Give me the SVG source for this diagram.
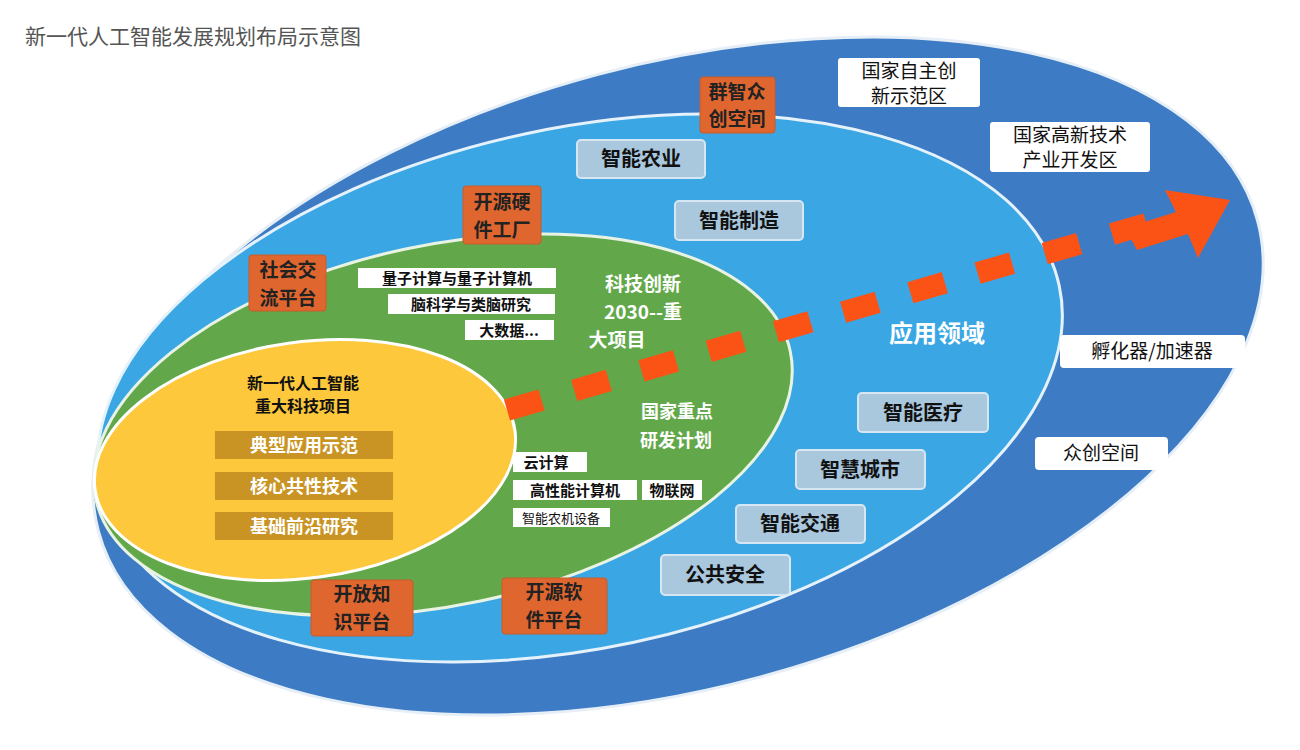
<svg xmlns="http://www.w3.org/2000/svg" width="1300" height="750" viewBox="0 0 1300 750">
<style>
text{font-family:"Noto Sans CJK SC","Liberation Sans",sans-serif;text-anchor:middle}
.org rect{fill:#e0662f;stroke:#c85a28;stroke-width:1}
.org text{fill:#222;font-size:19px;font-weight:bold}
.wb rect{fill:#fff}
.wb text{fill:#111;font-size:19px}
.wl rect{fill:#fff}
.wl text{fill:#111;font-size:15px;font-weight:bold}
.lb rect{fill:#a9c7dd;stroke:#d6e6f2;stroke-width:2}
.lb text{fill:#111;font-size:20px;font-weight:bold}
.gd rect{fill:#c99424}
.gd text{fill:#fff;font-size:18px;font-weight:bold}
.wt text{fill:#fff;font-weight:bold}
</style>
<rect width="1300" height="750" fill="#fff"/>
<text x="25" y="44" style="text-anchor:start;font-size:21px;fill:#555">新一代人工智能发展规划布局示意图</text>
<g id="outer"><ellipse cx="678" cy="376" rx="600" ry="312" transform="rotate(-15 678 376)" fill="#3d7cc4" stroke="#e6eef7" stroke-width="3"/></g>
<g id="middle"><ellipse cx="580" cy="388" rx="490" ry="260" transform="rotate(-12 580 388)" fill="#3aa7e4" stroke="#e6f2fb" stroke-width="3"/></g>
<g id="green"><ellipse cx="443" cy="425" rx="355" ry="180" transform="rotate(-12 443 425)" fill="#62a84a" stroke="#e8f3e4" stroke-width="3"/></g>
<g id="yellow"><ellipse cx="305" cy="460" rx="212" ry="118" transform="rotate(-8 305 460)" fill="#fdc83c" stroke="#fff" stroke-width="3"/></g>
<g id="connectors">
<line x1="507" y1="410" x2="1150" y2="223" stroke="#fb5316" stroke-width="22" stroke-dasharray="36,34"/>
<polygon points="1230,200 1165,190 1176,212 1125,228 1137,250 1188,234 1198,258" fill="#fb5316"/>
</g>
<text x="303" y="389" style="font-size:16px;font-weight:bold;fill:#111">新一代人工智能</text>
<text x="303" y="412" style="font-size:16px;font-weight:bold;fill:#111">重大科技项目</text>
<g id="n1" class="gd"><rect x="215" y="431" width="178" height="28"/><text x="304" y="452">典型应用示范</text></g>
<g id="n2" class="gd"><rect x="215" y="472" width="178" height="28"/><text x="304" y="493">核心共性技术</text></g>
<g id="n3" class="gd"><rect x="215" y="512" width="178" height="28"/><text x="304" y="533">基础前沿研究</text></g>
<g id="t1" class="wt"><text x="643" y="291" style="font-size:19px">科技创新</text><text x="643" y="319" style="font-size:19px">2030--重</text><text x="617" y="347" style="font-size:19px">大项目</text></g>
<g id="t2" class="wt"><text x="677" y="418" style="font-size:18px">国家重点</text><text x="676" y="447" style="font-size:18px">研发计划</text></g>
<g id="t3" class="wt"><text x="937" y="342" style="font-size:24px">应用领域</text></g>
<g id="w1" class="wl"><rect x="358" y="268" width="198" height="20"/><text x="457" y="284">量子计算与量子计算机</text></g>
<g id="w2" class="wl"><rect x="388" y="294" width="167" height="20"/><text x="471" y="310">脑科学与类脑研究</text></g>
<g id="w3" class="wl"><rect x="465" y="320" width="89" height="20"/><text x="509" y="336">大数据...</text></g>
<g id="w4" class="wl"><rect x="513" y="452" width="74" height="20"/><text x="546" y="468">云计算</text></g>
<g id="w5" class="wl"><rect x="513" y="480" width="124" height="20"/><text x="575" y="496">高性能计算机</text></g>
<g id="w6" class="wl"><rect x="642" y="480" width="60" height="20"/><text x="672" y="496">物联网</text></g>
<g id="w7" class="wl"><rect x="513" y="508" width="97" height="19"/><text x="561" y="523" style="font-weight:normal;font-size:13px">智能农机设备</text></g>
<g id="o1" class="org"><rect x="700" y="77" width="75" height="56" rx="3"/><text x="737" y="99">群智众</text><text x="737" y="126">创空间</text></g>
<g id="o2" class="org"><rect x="463" y="186" width="78" height="58" rx="3"/><text x="502" y="209">开源硬</text><text x="502" y="237">件工厂</text></g>
<g id="o3" class="org"><rect x="249" y="255" width="77" height="56" rx="3"/><text x="288" y="277">社会交</text><text x="288" y="305">流平台</text></g>
<g id="o4" class="org"><rect x="311" y="580" width="102" height="56" rx="3"/><text x="362" y="601">开放知</text><text x="362" y="629">识平台</text></g>
<g id="o5" class="org"><rect x="502" y="578" width="105" height="56" rx="3"/><text x="554" y="599">开源软</text><text x="554" y="627">件平台</text></g>
<g id="l1" class="lb"><rect x="577" y="140" width="128" height="38" rx="4"/><text x="641" y="166">智能农业</text></g>
<g id="l2" class="lb"><rect x="675" y="201" width="128" height="39" rx="4"/><text x="739" y="228">智能制造</text></g>
<g id="l3" class="lb"><rect x="858" y="393" width="130" height="39" rx="4"/><text x="923" y="420">智能医疗</text></g>
<g id="l4" class="lb"><rect x="796" y="450" width="129" height="39" rx="4"/><text x="860" y="477">智慧城市</text></g>
<g id="l5" class="lb"><rect x="736" y="505" width="129" height="38" rx="4"/><text x="800" y="531">智能交通</text></g>
<g id="l6" class="lb"><rect x="661" y="555" width="129" height="40" rx="4"/><text x="725" y="582">公共安全</text></g>
<g id="b1" class="wb"><rect x="838" y="58" width="142" height="49" rx="3"/><text x="909" y="78">国家自主创</text><text x="909" y="103">新示范区</text></g>
<g id="b2" class="wb"><rect x="990" y="122" width="160" height="50" rx="3"/><text x="1070" y="142">国家高新技术</text><text x="1070" y="167">产业开发区</text></g>
<g id="b3" class="wb"><rect x="1060" y="335" width="185" height="33" rx="4"/><text x="1152" y="358">孵化器/加速器</text></g>
<g id="b4" class="wb"><rect x="1035" y="437" width="133" height="33" rx="4"/><text x="1101" y="460">众创空间</text></g>
</svg>
